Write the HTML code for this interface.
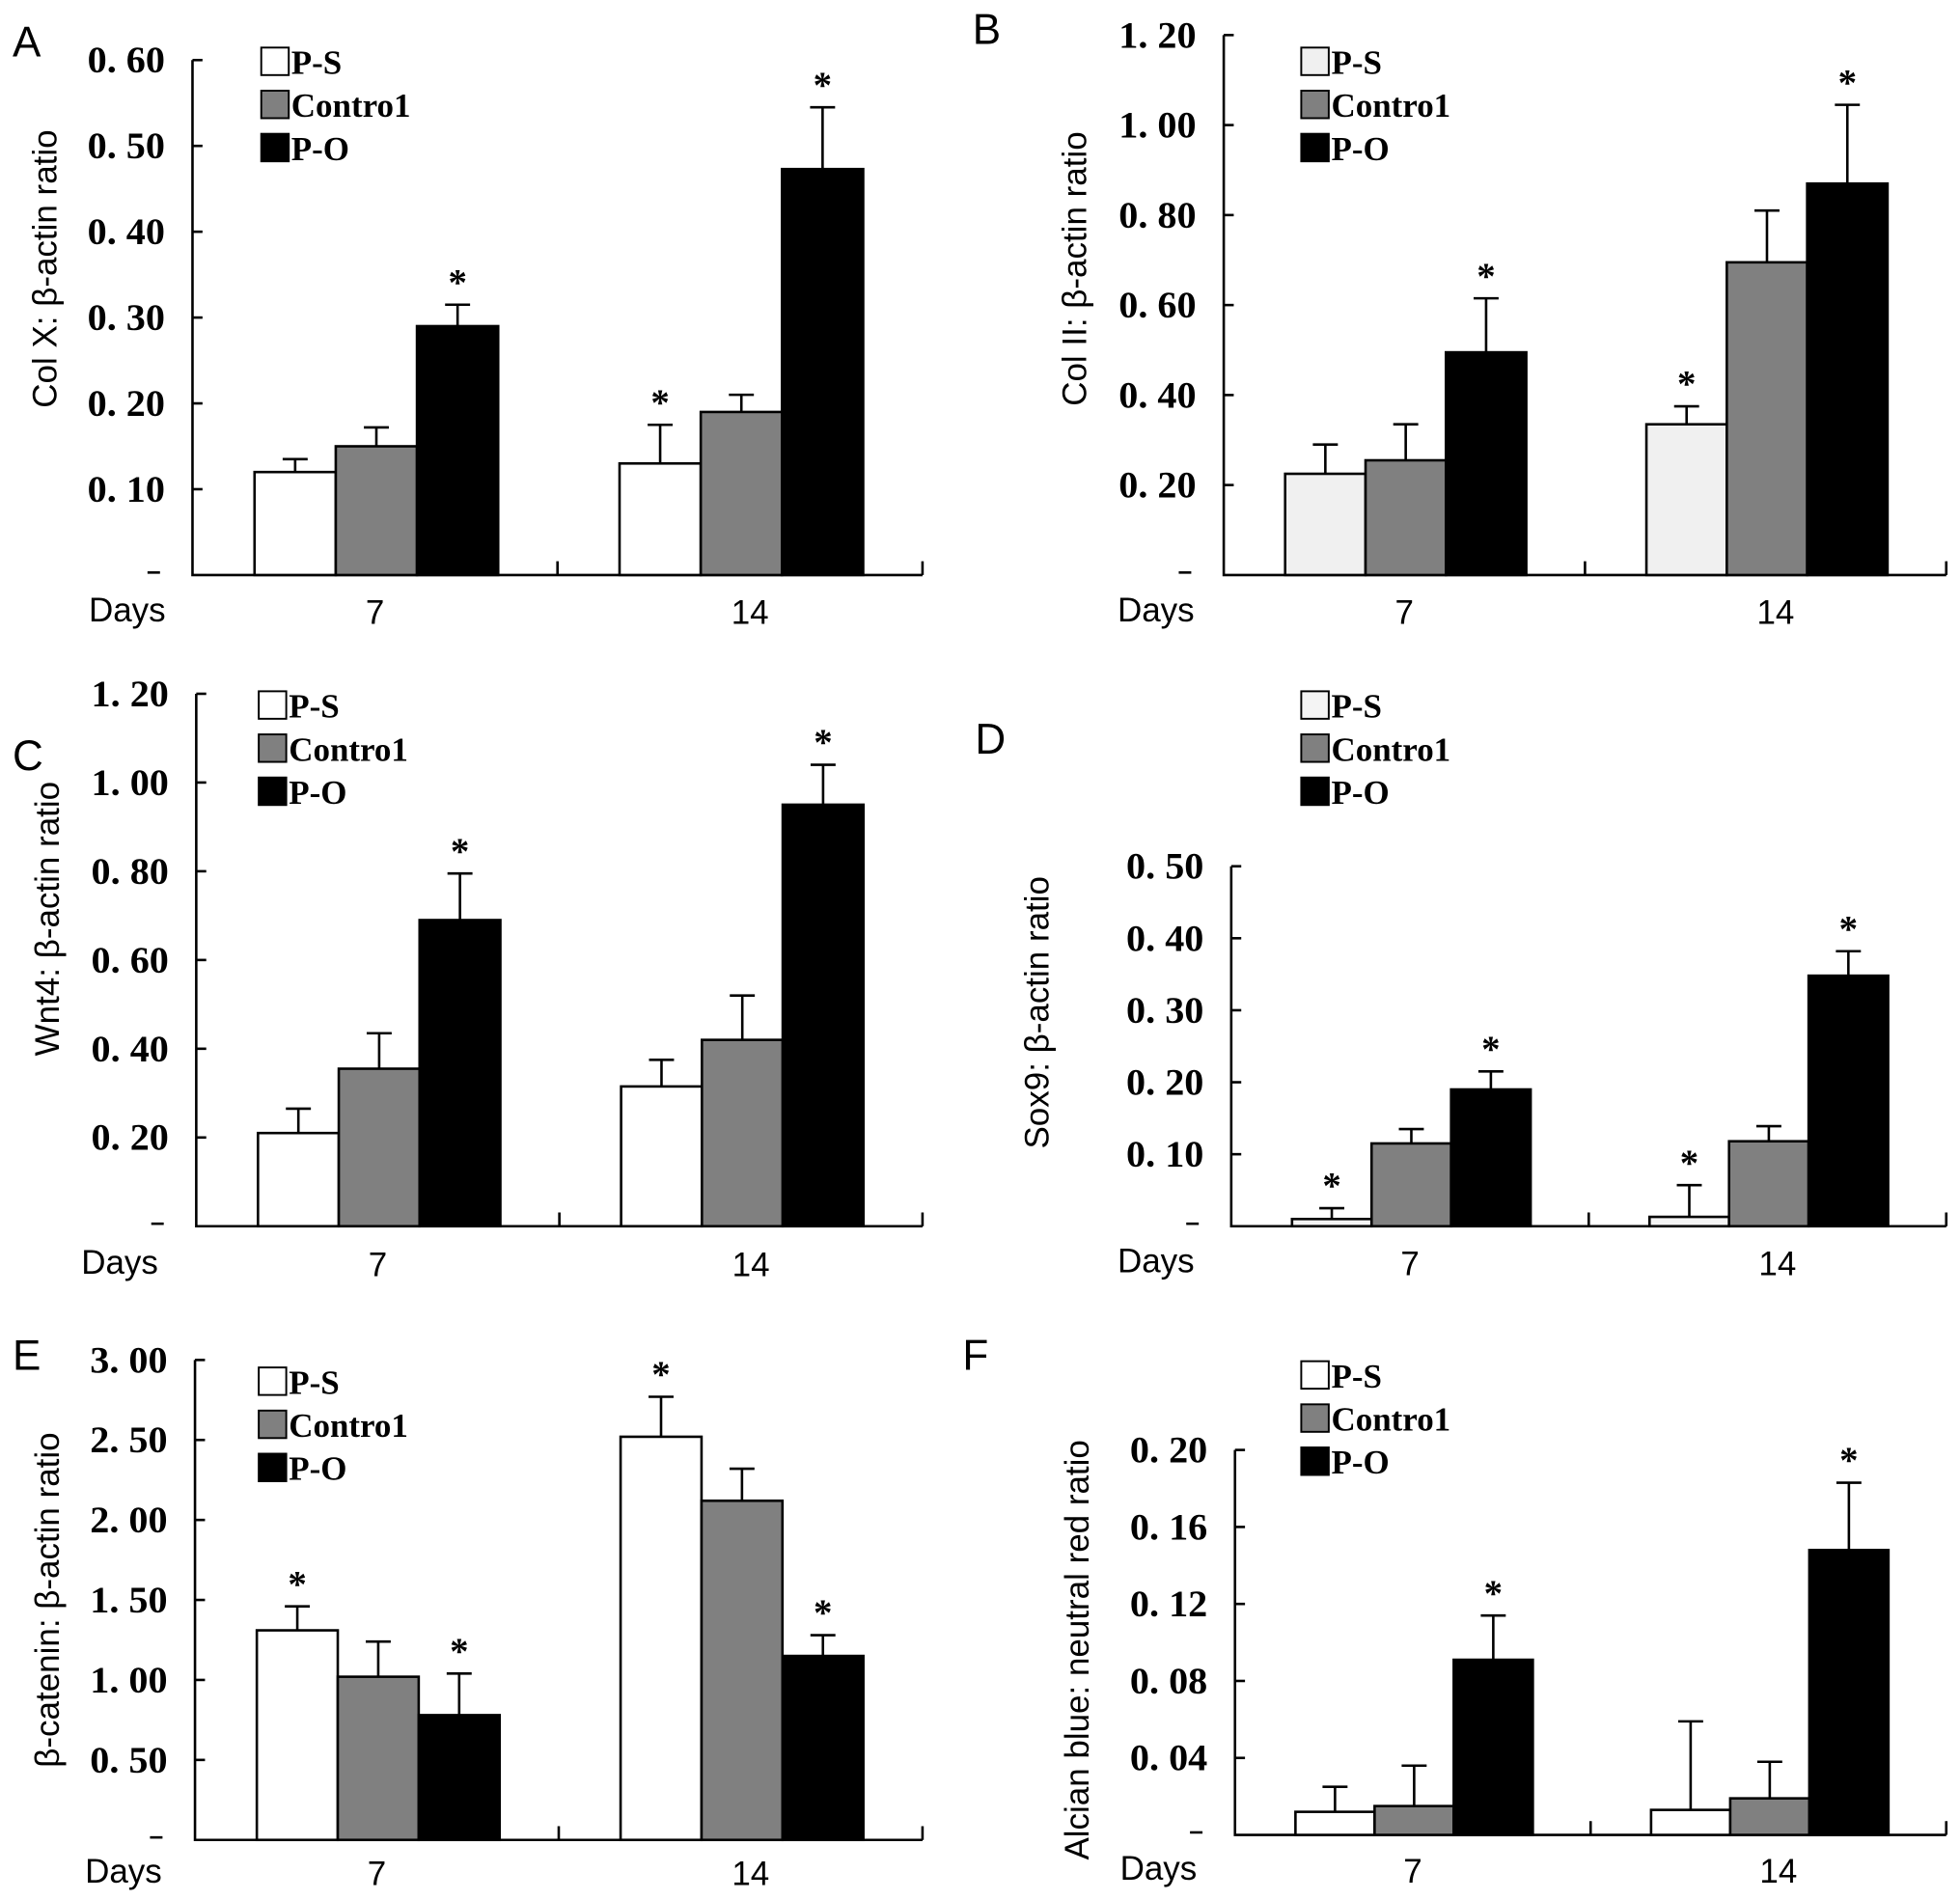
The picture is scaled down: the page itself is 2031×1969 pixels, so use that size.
<!DOCTYPE html>
<html><head><meta charset="utf-8"><style>
html,body{margin:0;padding:0;background:#fff;}
svg{display:block;}
.tick{font-family:"Liberation Serif",serif;font-weight:bold;font-size:30px;}
.leg{font-family:"Liberation Serif",serif;font-weight:bold;font-size:27px;}
.sans{font-family:"Liberation Sans",sans-serif;}
</style></head><body>
<svg id="fig" width="2031" height="1969" viewBox="0 0 1568 1520" xmlns="http://www.w3.org/2000/svg"></svg>
<script>
// ---- data ----
const days = ["7", "14"];
const seriesNames = ["P-S", "Contro1", "P-O"];
const A_ps = [0.12, 0.13];   const A_psErr = [0.135, 0.175];
const A_ctrl = [0.15, 0.19]; const A_ctrlErr = [0.172, 0.21];
const A_po = [0.29, 0.473];  const A_poErr = [0.315, 0.545];
const A_ticks = [0.10, 0.20, 0.30, 0.40, 0.50, 0.60];
const A_tickLabels = ["0. 10","0. 20","0. 30","0. 40","0. 50","0. 60"];
const A_stars = [[0,0,1],[1,0,1]];

const B_ps = [0.225, 0.335];  const B_psErr = [0.29, 0.375];
const B_ctrl = [0.255, 0.695]; const B_ctrlErr = [0.335, 0.81];
const B_po = [0.495, 0.87];   const B_poErr = [0.615, 1.045];
const B_ticks = [0.20, 0.40, 0.60, 0.80, 1.00, 1.20];
const B_tickLabels = ["0. 20","0. 40","0. 60","0. 80","1. 00","1. 20"];
const B_stars = [[0,0,1],[1,0,1]];

const C_ps = [0.21, 0.315];   const C_psErr = [0.265, 0.375];
const C_ctrl = [0.355, 0.42]; const C_ctrlErr = [0.435, 0.52];
const C_po = [0.69, 0.95];    const C_poErr = [0.795, 1.04];
const C_ticks = [0.20, 0.40, 0.60, 0.80, 1.00, 1.20];
const C_tickLabels = ["0. 20","0. 40","0. 60","0. 80","1. 00","1. 20"];
const C_stars = [[0,0,1],[0,0,1]];

const D_ps = [0.01, 0.013];   const D_psErr = [0.025, 0.057];
const D_ctrl = [0.115, 0.118]; const D_ctrlErr = [0.135, 0.139];
const D_po = [0.19, 0.348];   const D_poErr = [0.215, 0.382];
const D_ticks = [0.10, 0.20, 0.30, 0.40, 0.50];
const D_tickLabels = ["0. 10","0. 20","0. 30","0. 40","0. 50"];
const D_stars = [[1,0,1],[1,0,1]];

const E_ps = [1.31, 2.52];    const E_psErr = [1.46, 2.77];
const E_ctrl = [1.02, 2.12];  const E_ctrlErr = [1.24, 2.32];
const E_po = [0.78, 1.15];    const E_poErr = [1.04, 1.28];
const E_ticks = [0.5, 1.0, 1.5, 2.0, 2.5, 3.0];
const E_tickLabels = ["0. 50","1. 00","1. 50","2. 00","2. 50","3. 00"];
const E_stars = [[1,0,1],[1,0,1]];

const F_ps = [0.012, 0.013];  const F_psErr = [0.025, 0.059];
const F_ctrl = [0.015, 0.019]; const F_ctrlErr = [0.036, 0.038];
const F_po = [0.091, 0.148];  const F_poErr = [0.114, 0.183];
const F_ticks = [0.04, 0.08, 0.12, 0.16, 0.20];
const F_tickLabels = ["0. 04","0. 08","0. 12","0. 16","0. 20"];
const F_stars = [[0,0,1],[0,0,1]];

// ---- layout ----
const panels = [
 {id:"a",letter:"A",lx:10,ly:45,x0:154,xr:738,yTop:48,y0:460,max:0.60,ylab:"Col X: β-actin ratio",yl:[36,215],legX:209,legY:49,daysX:71,daysY:497,psFill:"#ffffff",
  ps:A_ps,psE:A_psErr,ctrl:A_ctrl,ctrlE:A_ctrlErr,po:A_po,poE:A_poErr,ticks:A_ticks,tl:A_tickLabels,stars:A_stars},
 {id:"b",letter:"B",lx:778,ly:35,x0:979,xr:1557,yTop:28,y0:460,max:1.20,ylab:"Col II: β-actin ratio",yl:[860,215],legX:1041,legY:49,daysX:894,daysY:497,psFill:"#f0f0f0",
  ps:B_ps,psE:B_psErr,ctrl:B_ctrl,ctrlE:B_ctrlErr,po:B_po,poE:B_poErr,ticks:B_ticks,tl:B_tickLabels,stars:B_stars},
 {id:"c",letter:"C",lx:10,ly:616,x0:157,xr:738,yTop:555,y0:981,max:1.20,ylab:"Wnt4: β-actin ratio",yl:[38,735],legX:207,legY:564,daysX:65,daysY:1019,psFill:"#ffffff",
  ps:C_ps,psE:C_psErr,ctrl:C_ctrl,ctrlE:C_ctrlErr,po:C_po,poE:C_poErr,ticks:C_ticks,tl:C_tickLabels,stars:C_stars},
 {id:"d",letter:"D",lx:780,ly:603,x0:985,xr:1557,yTop:693,y0:981,max:0.50,ylab:"Sox9: β-actin ratio",yl:[830,810],legX:1041,legY:564,daysX:894,daysY:1018,psFill:"#f4f4f4",
  ps:D_ps,psE:D_psErr,ctrl:D_ctrl,ctrlE:D_ctrlErr,po:D_po,poE:D_poErr,ticks:D_ticks,tl:D_tickLabels,stars:D_stars},
 {id:"e",letter:"E",lx:10,ly:1096,x0:156,xr:738,yTop:1088,y0:1472,max:3.00,ylab:"β-catenin: β-actin ratio",yl:[38,1280],legX:207,legY:1105,daysX:68,daysY:1506,psFill:"#ffffff",
  ps:E_ps,psE:E_psErr,ctrl:E_ctrl,ctrlE:E_ctrlErr,po:E_po,poE:E_poErr,ticks:E_ticks,tl:E_tickLabels,stars:E_stars},
 {id:"f",letter:"F",lx:770,ly:1096,x0:988,xr:1557,yTop:1160,y0:1468,max:0.20,ylab:"Alcian blue: neutral red ratio",yl:[862,1320],legX:1041,legY:1100,daysX:896,daysY:1504,psFill:"#ffffff",
  ps:F_ps,psE:F_psErr,ctrl:F_ctrl,ctrlE:F_ctrlErr,po:F_po,poE:F_poErr,ticks:F_ticks,tl:F_tickLabels,stars:F_stars}
];
const fills = ["", "#808080", "#000000"];
const NS = "http://www.w3.org/2000/svg";
const svg = document.getElementById("fig");
function mk(tag, attrs, parent, text){
  const e = document.createElementNS(NS, tag);
  for (const k in attrs) e.setAttribute(k, attrs[k]);
  if (text !== undefined) e.textContent = text;
  parent.appendChild(e);
  return e;
}
panels.forEach(p => {
  const g = mk("g", {}, svg);
  
  
  const y = v => p.y0 - v / p.max * (p.y0 - p.yTop);
  const half = (p.xr - p.x0) / 2;
  const pad = 0.17 * half, bw = 0.2225 * half;
  const bx = (gi, si) => p.x0 + gi * half + pad + si * bw;

  const lt = mk("text", {x:p.lx, y:p.ly, class:"sans", "font-size":34}, g, p.letter);
  
  

  const ax = mk("path", {d:`M${p.x0},${p.yTop} V${p.y0} H${p.xr} M${p.x0+half},${p.y0} v-11 M${p.xr},${p.y0} v-11`, stroke:"#000", "stroke-width":2, fill:"none"}, g);
  
  
  p.ticks.forEach((t, i) => {
    const ty = y(t);
    const tk = mk("line", {x1:p.x0, x2:p.x0+8, y1:ty, y2:ty, stroke:"#000", "stroke-width":2}, g);
    
    
    const tl = mk("text", {x:p.x0-22, y:ty+10, "text-anchor":"end", class:"tick", textLength:62, lengthAdjust:"spacingAndGlyphs"}, g, p.tl[i]);
    
    
  });
  const zd = mk("line", {x1:p.x0-36, x2:p.x0-26, y1:p.y0-2, y2:p.y0-2, stroke:"#000", "stroke-width":2}, g);
  
  

  const yt = mk("text", {x:0, y:0, class:"sans", "font-size":27, "text-anchor":"middle", transform:`translate(${p.yl[0]+9},${p.yl[1]}) rotate(-90)`}, g, p.ylab);
  
  
  const dl = mk("text", {x:p.daysX, y:p.daysY, class:"sans", "font-size":27}, g, "Days");
  
  

  const vals = [p.ps, p.ctrl, p.po], errs = [p.psE, p.ctrlE, p.poE];
  days.forEach((d, gi) => {
    const xl = mk("text", {x:p.x0 + gi*half + half/2 + gi*8, y:p.daysY+2, class:"sans", "font-size":27, "text-anchor":"middle"}, g, d);
    
    
    for (let si = 0; si < 3; si++) {
      const x = bx(gi, si), top = y(vals[si][gi]), et = y(errs[si][gi]), cx = x + bw/2;
      const eb = mk("path", {d:`M${cx},${top} V${et} M${cx-10},${et} H${cx+10}`, stroke:"#000", "stroke-width":2, fill:"none"}, g);
      
      
      const r = mk("rect", {x:x, y:top, width:bw, height:p.y0-top, fill: si===0 ? p.psFill : fills[si], stroke:"#000", "stroke-width":2}, g);
      
      
      if (p.stars[gi][si]) {
        const st = mk("text", {x:cx, y:et-8, "text-anchor":"middle", class:"tick", "font-size":28}, g, "*");
        
        
      }
    }
  });
  seriesNames.forEach((n, si) => {
    const ly = p.legY + si * 34.5;
    const sw = mk("rect", {x:p.legX, y:ly-11, width:22, height:22, fill: si===0 ? p.psFill : fills[si], stroke:"#000", "stroke-width":1.5}, g);
    
    
    const lt2 = mk("text", {x:p.legX+24, y:ly+10, class:"leg"}, g, n);
    
    
  });
});
</script>
</body></html>
